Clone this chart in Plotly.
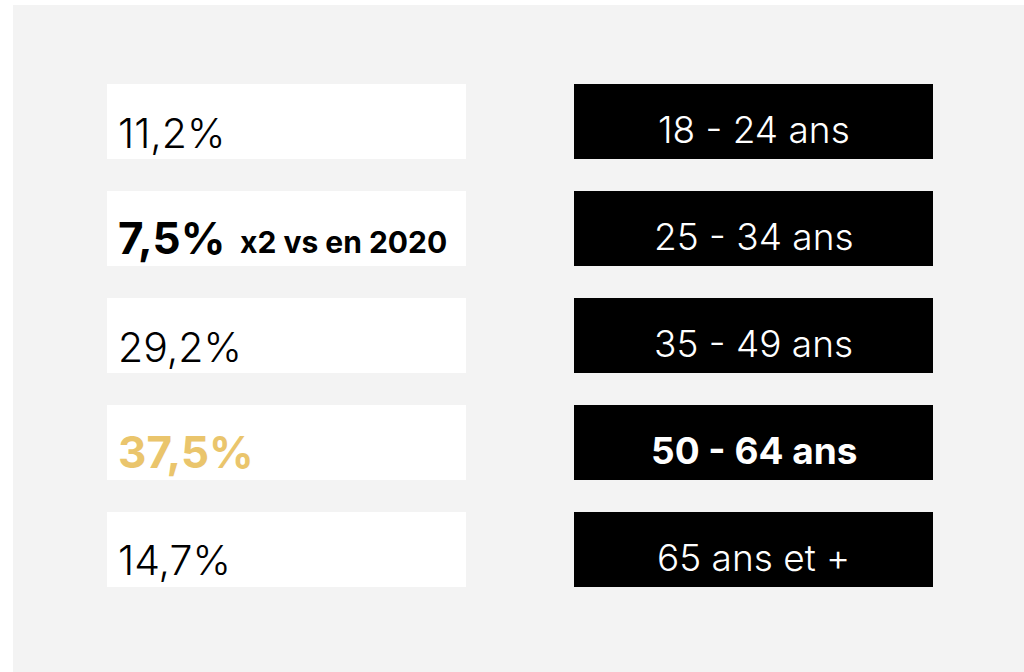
import plotly.graph_objects as go

# ---- data ----
age_groups = ["18 - 24 ans", "25 - 34 ans", "35 - 49 ans", "50 - 64 ans", "65 ans et +"]
shares = [11.2, 7.5, 29.2, 37.5, 14.7]
notes = ["", "x2 vs en 2020", "", "", ""]
highlight = [False, True, False, True, False]   # bold rows
accent = [False, False, False, True, False]     # gold value

FONT = "Inter"
GOLD = "#eac56c"

def fmt(v):
    return f"{v:.1f}".replace(".", ",") + "%"

# layout geometry (pixel-like x axis)
LEFT_X0, RIGHT_X0, PANEL_W = 107, 574, 359

fig = go.Figure()
fig.add_trace(go.Bar(
    orientation="h", y=age_groups, x=[PANEL_W] * len(age_groups), base=LEFT_X0,
    marker=dict(color="white", line=dict(width=0)), width=0.70, hoverinfo="skip"))
fig.add_trace(go.Bar(
    orientation="h", y=age_groups, x=[PANEL_W] * len(age_groups), base=RIGHT_X0,
    marker=dict(color="black", line=dict(width=0)), width=0.70, hoverinfo="skip"))

for age, v, note, hl, ac in zip(age_groups, shares, notes, highlight, accent):
    fig.add_annotation(
        x=116, y=age, xref="x", yref="y", xanchor="left", yanchor="middle",
        yshift=-11 if not hl else -9, text=fmt(v), showarrow=False,
        font=dict(family=FONT, size=44 if hl else 41, weight=700 if hl else 300,
                  color=GOLD if ac else "black"))
    if note:
        fig.add_annotation(
            x=238, y=age, xref="x", yref="y", xanchor="left", yanchor="middle",
            yshift=-13, text=note, showarrow=False,
            font=dict(family=FONT, size=30, weight=700, color="black"))
    fig.add_annotation(
        x=RIGHT_X0 + PANEL_W / 2, y=age, xref="x", yref="y", xanchor="center",
        yanchor="middle", yshift=-8, text=age, showarrow=False,
        font=dict(family=FONT, size=37, weight=700 if (hl and ac) else 300,
                  color="white"))

fig.update_layout(
    width=1024, height=672,
    margin=dict(l=13, r=0, t=5, b=0),
    paper_bgcolor="white", plot_bgcolor="#f3f3f3",
    showlegend=False, barmode="overlay", hovermode=False,
    xaxis=dict(range=[13, 1024], visible=False, fixedrange=True),
    yaxis=dict(range=[4 + 1.145, -1.089], visible=False, fixedrange=True,
               categoryorder="array", categoryarray=age_groups),
)

fig.write_html("out.html", config={"displayModeBar": False},
               post_script="document.body.style.margin='0';document.body.style.overflow='hidden';")
